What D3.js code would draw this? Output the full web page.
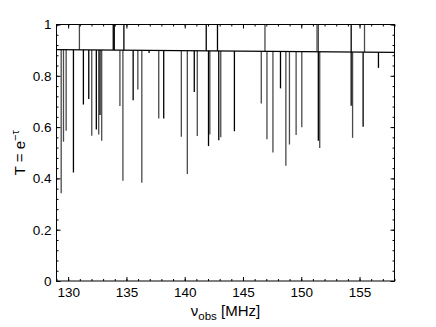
<!DOCTYPE html>
<html><head><meta charset="utf-8">
<script src="https://cdn.jsdelivr.net/npm/d3@7"></script>
<style>body{margin:0;background:#fff}svg{display:block}text{font-family:"Liberation Sans",Arial,sans-serif}</style>
</head><body><svg id="c" width="436" height="327"></svg>
<script>
// continuum level (linear across band)
const contFreq = [129, 158];
const contT = [0.902, 0.891];
// absorption lines: frequency (MHz), minimum transmission, tone (0 dark, 1 gray)
const absFreq = [129.402,129.599,129.829,130.453,131.307,131.768,132.024,132.417,132.622,132.733,132.878,
  134.441,134.698,135.577,135.979,136.320,136.944,137.772,138.199,139.711,140.224,140.821,141.078,
  142.043,142.154,142.923,143.093,144.264,146.570,147.057,147.570,148.218,148.680,148.987,149.559,
  150.046,151.464,151.584,154.283,154.403,155.308,156.623];
const absT = [0.342,0.543,0.586,0.423,0.688,0.710,0.566,0.591,0.571,0.647,0.547,
  0.682,0.391,0.705,0.747,0.383,0.889,0.634,0.634,0.562,0.417,0.737,0.565,
  0.526,0.571,0.549,0.560,0.584,0.692,0.553,0.501,0.751,0.449,0.532,0.569,
  0.599,0.547,0.519,0.683,0.558,0.601,0.831];
const absTone = [1,1,1,0,0,0,1,0,1,0,1, 1,1,0,1,1,0,1,0,1,1,0,1, 0,1,0,1,0,1,1,1,0,1,1,1, 1,0,1,0,1,0,0];
// emission-like spikes reaching T = 1
const upFreq = [130.965,133.869,133.955,134.783,141.847,142.812,146.886,151.353,151.464,154.283,155.427];
const upTone = [1,0,0,0,0,0,1,1,1,0,1];
const xTicks = [130,135,140,145,150,155];
const yTicks = [0,0.2,0.4,0.6,0.8,1];

const svg = d3.select("#c");
const L=56.5, R=394.5, T=24.5, B=281;
const x = d3.scaleLinear().domain([129,158]).range([L,R]);
const y = d3.scaleLinear().domain([0,1]).range([B,T]);
const cont = d3.scaleLinear().domain(contFreq).range(contT);
const tones = ["#000","#4a4a4a"];

const g = svg.append("g");
// absorption lines
absFreq.forEach((f,i)=>{
  g.append("line").attr("x1",x(f)).attr("x2",x(f))
   .attr("y1",y(cont(f))).attr("y2",y(absT[i]))
   .attr("stroke",tones[absTone[i]]).attr("stroke-width",1.3);
});
// upward spikes
upFreq.forEach((f,i)=>{
  g.append("line").attr("x1",x(f)).attr("x2",x(f))
   .attr("y1",y(cont(f))).attr("y2",y(1))
   .attr("stroke",tones[upTone[i]]).attr("stroke-width",1.3);
});
// continuum
g.append("line").attr("x1",x(contFreq[0])).attr("x2",x(contFreq[1]))
 .attr("y1",y(contT[0])).attr("y2",y(contT[1])).attr("stroke","#000").attr("stroke-width",1.2);

// axes
const minorX = d3.range(129,158.01,1);
const minorY = d3.range(0,1.001,0.04);
function styleAxis(sel){sel.select(".domain").remove();sel.selectAll("line").attr("stroke","#000");sel.selectAll("text").attr("font-size",13.5).attr("fill","#000");}
svg.append("g").attr("transform",`translate(0,${B})`)
  .call(d3.axisBottom(x).tickValues(minorX).tickSize(-2).tickFormat(""))
  .call(styleAxis);
svg.append("g").attr("transform",`translate(0,${B})`)
  .call(d3.axisBottom(x).tickValues(xTicks).tickSize(-4).tickPadding(6).tickFormat(d3.format("d")))
  .call(styleAxis);
svg.append("g").attr("transform",`translate(0,${T})`)
  .call(d3.axisTop(x).tickValues(minorX).tickSize(-2).tickFormat(""))
  .call(styleAxis);
svg.append("g").attr("transform",`translate(0,${T})`)
  .call(d3.axisTop(x).tickValues(xTicks).tickSize(-4).tickFormat(""))
  .call(styleAxis);
svg.append("g").attr("transform",`translate(${L},0)`)
  .call(d3.axisLeft(y).tickValues(minorY).tickSize(-2).tickFormat(""))
  .call(styleAxis);
svg.append("g").attr("transform",`translate(${L},0)`)
  .call(d3.axisLeft(y).tickValues(yTicks).tickSize(-4).tickPadding(5).tickFormat(d=>d===0||d===1?d3.format("d")(d):d3.format(".1f")(d)))
  .call(styleAxis);
svg.append("g").attr("transform",`translate(${R},0)`)
  .call(d3.axisRight(y).tickValues(minorY).tickSize(-2).tickFormat(""))
  .call(styleAxis);
svg.append("g").attr("transform",`translate(${R},0)`)
  .call(d3.axisRight(y).tickValues(yTicks).tickSize(-4).tickFormat(""))
  .call(styleAxis);
svg.append("rect").attr("x",L).attr("y",T).attr("width",R-L).attr("height",B-T)
  .attr("fill","none").attr("stroke","#000").attr("stroke-width",1);

// labels
const xl = svg.append("text").attr("x",(L+R)/2).attr("y",316).attr("text-anchor","middle").attr("font-size",15);
xl.append("tspan").text("ν");
xl.append("tspan").attr("font-size",11.5).attr("dy",4).text("obs");
xl.append("tspan").attr("dy",-4).text(" [MHz]");
const yl = svg.append("text").attr("transform",`translate(25,${(T+B)/2}) rotate(-90)`).attr("text-anchor","middle").attr("font-size",15);
yl.append("tspan").text("T = e");
yl.append("tspan").attr("font-size",11).attr("dy",-6).text("−τ");
</script></body></html>
